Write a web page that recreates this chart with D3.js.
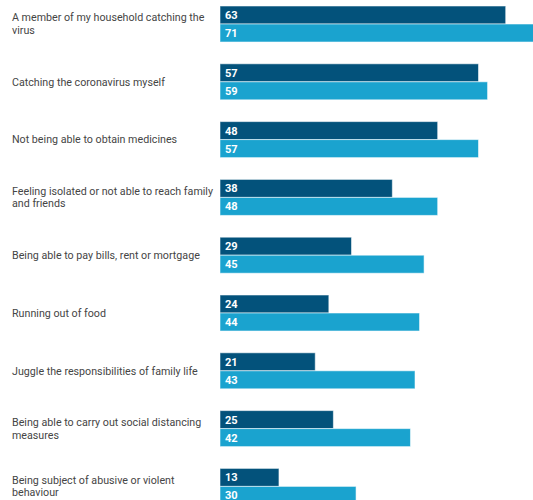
<!DOCTYPE html>
<html>
<head>
<meta charset="utf-8">
<script src="https://cdn.jsdelivr.net/npm/d3@7"></script>
<style>
  html, body { margin: 0; padding: 0; background: #fff; overflow: hidden; }
  svg { display: block; font-family: Roboto, "Noto Sans", sans-serif; }
</style>
</head>
<body>
<svg id="chart" width="533" height="500"></svg>
<script>
// Concern categories (each entry is the label split into its display lines)
const categories = [
  ["A member of my household catching the", "virus"],
  ["Catching the coronavirus myself"],
  ["Not being able to obtain medicines"],
  ["Feeling isolated or not able to reach family", "and friends"],
  ["Being able to pay bills, rent or mortgage"],
  ["Running out of food"],
  ["Juggle the responsibilities of family life"],
  ["Being able to carry out social distancing", "measures"],
  ["Being subject of abusive or violent", "behaviour"]
];
const seriesNames = ["first", "second"];
const firstValues  = [63, 57, 48, 38, 29, 24, 21, 25, 13];
const secondValues = [71, 59, 57, 48, 45, 44, 43, 42, 30];
const seriesColors = ["#03527b", "#1aa3cf"];

const svg = d3.select("#chart");
const keys = categories.map((c, i) => i);

const step = 57.8, pad = 0.377;
const x = d3.scaleLinear().domain([0, 100]).range([220, 220 + 453.5]);
const y = d3.scaleBand().domain(keys).range([6, 6 + step * (keys.length - pad)])
  .paddingInner(pad).paddingOuter(0).align(0);
const ySub = d3.scaleBand().domain(seriesNames).range([0, y.bandwidth()]);
const color = d3.scaleOrdinal().domain(seriesNames).range(seriesColors);

const rows = keys.map(i => ({
  i,
  lines: categories[i],
  vals: [
    { s: "first", v: firstValues[i] },
    { s: "second", v: secondValues[i] }
  ]
}));

const g = svg.selectAll("g.row").data(rows).join("g")
  .attr("class", "row")
  .attr("transform", d => `translate(0,${y(d.i)})`);

// category labels, vertically centred on the group
g.append("text")
  .attr("x", 12)
  .attr("fill", "#454545")
  .attr("font-size", 10.7)
  .each(function(d) {
    const t = d3.select(this);
    const lh = 12.5;
    const mid = y.bandwidth() / 2;
    const start = mid - (d.lines.length - 1) * lh / 2;
    d.lines.forEach((ln, k) => {
      t.append("tspan").attr("x", 12).attr("y", start + k * lh).attr("dy", "0.35em").text(ln);
    });
  });

const bars = g.selectAll("g.bar").data(d => d.vals).join("g").attr("class", "bar");

bars.append("rect")
  .attr("x", x(0))
  .attr("y", d => ySub(d.s))
  .attr("width", d => x(d.v) - x(0))
  .attr("height", ySub.bandwidth())
  .attr("fill", d => color(d.s))
  .attr("stroke", "rgba(255,255,255,0.55)")
  .attr("stroke-width", 1);

bars.append("text")
  .attr("x", x(0) + 5)
  .attr("y", d => ySub(d.s) + ySub.bandwidth() / 2)
  .attr("dy", "0.36em")
  .attr("fill", "#ffffff")
  .attr("font-size", 11)
  .attr("font-weight", "bold")
  .text(d => d.v);
</script>
</body>
</html>
